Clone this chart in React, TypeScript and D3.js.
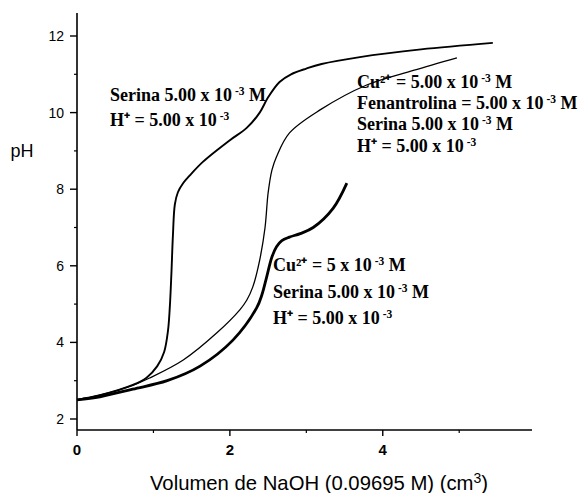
import * as d3 from "d3";
import React, { useEffect, useRef } from "react";

// Serina 5.00 x 10-3 M, H+ = 5.00 x 10-3
const serinaVol = [0, 0.3, 0.73, 0.91, 1.05, 1.14, 1.19, 1.215, 1.235, 1.255, 1.28, 1.32, 1.39, 1.48, 1.65, 2.0, 2.22, 2.39, 2.5, 2.65, 2.8, 3.0, 3.2, 3.7, 4.5, 5.44];
const serinaPH = [2.5, 2.62, 2.89, 3.08, 3.38, 3.75, 4.3, 4.95, 5.8, 6.8, 7.6, 7.92, 8.16, 8.37, 8.72, 9.28, 9.6, 10.0, 10.4, 10.8, 11.0, 11.15, 11.27, 11.45, 11.65, 11.82];

// Cu2+ + Fenantrolina + Serina
const fenVol = [0, 0.3, 0.73, 0.95, 1.39, 1.83, 2.13, 2.22, 2.3, 2.39, 2.46, 2.5, 2.55, 2.61, 2.78, 3.18, 3.79, 4.4, 4.97];
const fenPH = [2.5, 2.62, 2.88, 3.07, 3.54, 4.25, 4.85, 5.1, 5.45, 6.15, 7.0, 7.9, 8.5, 8.85, 9.47, 10.07, 10.72, 11.1, 11.43];

// Cu2+ + Serina
const cuVol = [0, 0.3, 0.73, 1.18, 1.61, 2.04, 2.35, 2.42, 2.48, 2.55, 2.61, 2.68, 2.78, 2.92, 3.09, 3.35, 3.53];
const cuPH = [2.5, 2.58, 2.78, 3.0, 3.38, 4.06, 4.9, 5.25, 5.7, 6.23, 6.5, 6.66, 6.75, 6.84, 7.0, 7.5, 8.16];

const xMajor = [0, 2, 4];
const xMinor = [1, 3, 5];
const yMajor = [2, 4, 6, 8, 10, 12];
const yMinor = [3, 5, 7, 9, 11];

const labelA = ["Serina 5.00 x 10|-3| M", "H⁺ = 5.00 x 10|-3|"];
const labelB = ["Cu²⁺ = 5.00 x 10|-3| M", "Fenantrolina = 5.00 x 10|-3| M", "Serina 5.00 x 10|-3| M", "H⁺ = 5.00 x 10|-3|"];
const labelC = ["Cu²⁺ = 5 x 10|-3| M", "Serina 5.00 x 10|-3| M", "H⁺ = 5.00 x 10|-3|"];

const W = 582;
const H = 493;

const App = () => {
  const ref = useRef<SVGSVGElement>(null);

  useEffect(() => {
    const svg = d3.select(ref.current);
    svg.selectAll("*").remove();

    const x = d3.scaleLinear().domain([0, 5.9]).range([77, 528]);
    const y = d3.scaleLinear().domain([2, 12]).range([419, 36]);
    const yBottom = 430;

    const g = svg.append("g");

    // axes
    g.append("line")
      .attr("x1", x(0)).attr("x2", x(0))
      .attr("y1", 13).attr("y2", yBottom)
      .attr("stroke", "#000").attr("stroke-width", 1.6);
    g.append("line")
      .attr("x1", x(0)).attr("x2", 532)
      .attr("y1", yBottom).attr("y2", yBottom)
      .attr("stroke", "#000").attr("stroke-width", 1.4);

    g.selectAll(".ymaj").data(yMajor).join("line")
      .attr("x1", x(0) - 7).attr("x2", x(0))
      .attr("y1", (d) => y(d)).attr("y2", (d) => y(d))
      .attr("stroke", "#000").attr("stroke-width", 1.4);
    g.selectAll(".ymin").data(yMinor).join("line")
      .attr("x1", x(0) - 3).attr("x2", x(0))
      .attr("y1", (d) => y(d)).attr("y2", (d) => y(d))
      .attr("stroke", "#000").attr("stroke-width", 1.2);
    g.selectAll(".xmaj").data(xMajor).join("line")
      .attr("x1", (d) => x(d)).attr("x2", (d) => x(d))
      .attr("y1", yBottom).attr("y2", yBottom + 6)
      .attr("stroke", "#000").attr("stroke-width", 1.4);
    g.selectAll(".xmin").data(xMinor).join("line")
      .attr("x1", (d) => x(d)).attr("x2", (d) => x(d))
      .attr("y1", yBottom).attr("y2", yBottom + 3)
      .attr("stroke", "#000").attr("stroke-width", 1.2);

    g.selectAll(".ylab").data(yMajor).join("text")
      .attr("x", x(0) - 13).attr("y", (d) => y(d))
      .attr("dy", "0.36em")
      .attr("text-anchor", "end")
      .style("font-family", "Arial, Liberation Sans, sans-serif")
      .style("font-size", "14px")
      .text((d) => d);
    g.selectAll(".xlab").data(xMajor).join("text")
      .attr("x", (d) => x(d)).attr("y", yBottom + 25)
      .attr("text-anchor", "middle")
      .style("font-family", "Arial, Liberation Sans, sans-serif")
      .style("font-size", "15px")
      .style("font-weight", "bold")
      .text((d) => d);

    g.append("text")
      .attr("x", 22).attr("y", 157)
      .attr("text-anchor", "middle")
      .style("font-family", "Arial, Liberation Sans, sans-serif")
      .style("font-size", "18px")
      .text("pH");

    const xl = g.append("text")
      .attr("x", 319).attr("y", 490)
      .attr("text-anchor", "middle")
      .style("font-family", "Arial, Liberation Sans, sans-serif")
      .style("font-size", "20.3px");
    xl.append("tspan").text("Volumen de NaOH (0.09695 M) (cm");
    xl.append("tspan").attr("dy", -7).style("font-size", "14px").text("3");
    xl.append("tspan").attr("dy", 7).text(")");

    // curves
    const line = d3.line<[number, number]>()
      .x((d) => x(d[0]))
      .y((d) => y(d[1]))
      .curve(d3.curveCatmullRom.alpha(0.5));

    const series = [
      { vol: serinaVol, ph: serinaPH, w: 1.9 },
      { vol: fenVol, ph: fenPH, w: 1.3 },
      { vol: cuVol, ph: cuPH, w: 2.8 },
    ];
    series.forEach((s) => {
      g.append("path")
        .attr("d", line(s.vol.map((v, i) => [v, s.ph[i]] as [number, number])))
        .attr("fill", "none")
        .attr("stroke", "#000")
        .attr("stroke-width", s.w)
        .attr("stroke-linejoin", "round");
    });

    // annotations
    const block = (lines: string[], x0: number, y0: number, step: number) => {
      lines.forEach((txt, i) => {
        const t = g.append("text")
          .attr("x", x0).attr("y", y0 + i * step)
          .style("font-family", "Liberation Serif, Times New Roman, serif")
          .style("font-weight", "bold")
          .style("font-size", "18px");
        const parts = txt.split("|");
        parts.forEach((p, k) => {
          if (k % 2 === 1) {
            t.append("tspan").attr("dx", 3).attr("dy", -6).style("font-size", "11.5px").text(p);
          } else {
            t.append("tspan").attr("dy", k > 0 ? 6 : 0).text(p);
          }
        });
      });
    };
    block(labelA, 110, 101, 25);
    block(labelB, 357, 88, 21.2);
    block(labelC, 273, 271, 26.5);
  }, []);

  return (
    <svg
      ref={ref}
      width={W}
      height={H}
      style={{ position: "absolute", left: 0, top: 0, background: "#fff" }}
    />
  );
};

export default App;
